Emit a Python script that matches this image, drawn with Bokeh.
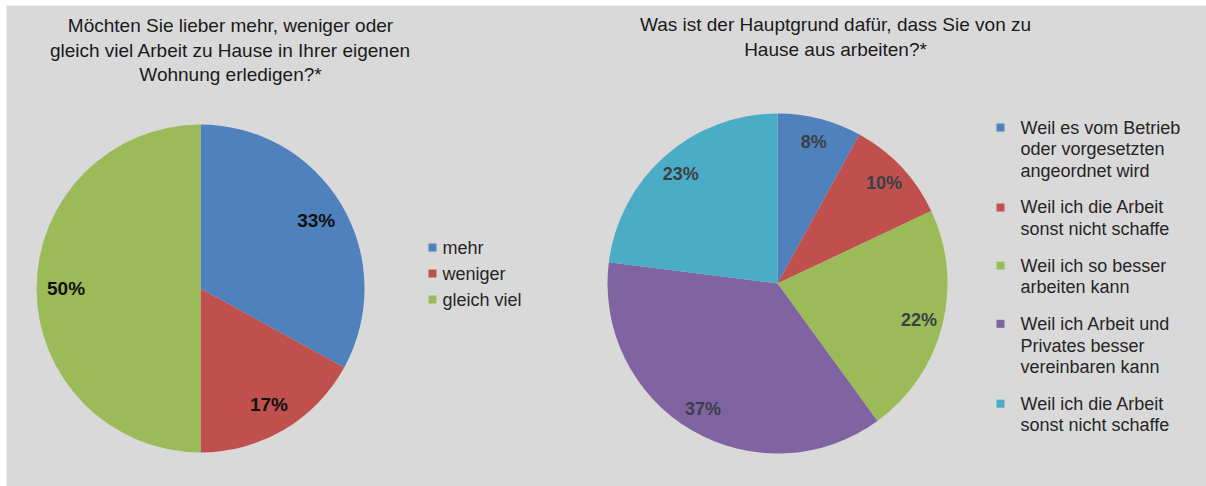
import math
from bokeh.plotting import figure
from bokeh.models import Range1d
from bokeh.core.properties import value
from bokeh.embed import file_html
from bokeh.resources import INLINE

# ---------------- data ----------------
left_title = ["Möchten Sie lieber mehr, weniger oder",
              "gleich viel Arbeit zu Hause in Ihrer eigenen",
              "Wohnung erledigen?*"]
left_categories = ["mehr", "weniger", "gleich viel"]
left_values = [33, 17, 50]

right_title = ["Was ist der Hauptgrund dafür, dass Sie von zu",
               "Hause aus arbeiten?*"]
right_categories = ["Weil es vom Betrieb\noder vorgesetzten\nangeordnet wird",
                    "Weil ich die Arbeit\nsonst nicht schaffe",
                    "Weil ich so besser\narbeiten kann",
                    "Weil ich Arbeit und\nPrivates besser\nvereinbaren kann",
                    "Weil ich die Arbeit\nsonst nicht schaffe"]
right_values = [8, 10, 22, 37, 23]

left_colors = ["#4f81bd", "#c0504d", "#9bbb59"]
right_colors = ["#4f81bd", "#c0504d", "#9bbb59", "#8064a2", "#4bacc6"]

# ---------------- layout ----------------
W, H = 1206, 486
LB, TB = 6, 5
BG = "#d9d9d9"
FONT = "Liberation Sans"


def Y(yref):  # reference-page y (top-down) -> data y
    return H - yref


def X(xref):
    return xref


p = figure(width=W, height=H, output_backend="svg", toolbar_location=None,
           x_range=Range1d(LB, W), y_range=Range1d(0, H - TB),
           x_axis_location=None, y_axis_location=None,
           min_border=0, min_border_left=LB, min_border_top=TB,
           background_fill_color=BG, border_fill_color="white",
           outline_line_color=None)
p.grid.visible = False


def pie(values, colors, cx, cy, r, lab_frac, lab_size, lab_color):
    total = float(sum(values))
    cum = 0.0
    starts, ends, lx, ly, labs = [], [], [], [], []
    for v in values:
        a0 = math.pi / 2 - 2 * math.pi * (cum + v) / total
        a1 = math.pi / 2 - 2 * math.pi * cum / total
        mid = (a0 + a1) / 2
        starts.append(a0)
        ends.append(a1)
        lx.append(cx + r * lab_frac * math.cos(mid))
        ly.append(cy + r * lab_frac * math.sin(mid))
        labs.append(f"{round(100 * v / total)}%")
        cum += v
    p.wedge(x=cx, y=cy, radius=r, start_angle=starts, end_angle=ends,
            fill_color=colors, line_color=None)
    p.text(x=lx, y=ly, text=labs, text_align="center", text_baseline="middle",
           text_font=value(FONT), text_font_style="bold",
           text_font_size=lab_size, text_color=lab_color)


pie(left_values, left_colors, X(200), Y(288), 164, 0.82, "19px", "#111111")
pie(right_values, right_colors, X(777), Y(283), 170, 0.86, "18px", "#3a3f47")

# titles
p.text(x=[X(230)] * len(left_title), y=[Y(25 + 24.5 * i) for i in range(len(left_title))],
       text=left_title, text_align="center", text_baseline="alphabetic",
       text_font=value(FONT), text_font_size="19px", text_color="#1a1a1a")
p.text(x=[X(835)] * len(right_title), y=[Y(24 + 24.5 * i) for i in range(len(right_title))],
       text=right_title, text_align="center", text_baseline="alphabetic",
       text_font=value(FONT), text_font_size="19px", text_color="#1a1a1a")

# left legend
ly0 = [247 + 26 * i for i in range(len(left_categories))]
p.scatter(x=[X(432)] * len(ly0), y=[Y(v) for v in ly0], marker="square", size=8,
          fill_color=left_colors, line_color=None)
p.text(x=[X(442)] * len(ly0), y=[Y(v) for v in ly0], text=left_categories,
       text_align="left", text_baseline="middle", text_font=value(FONT),
       text_font_size="18px", text_color="#262626")

# right legend
yy = 127.0
sq_y, tx_y, tx = [], [], []
for cat in right_categories:
    lines = cat.split("\n")
    sq_y.append(yy)
    for ln in lines:
        tx_y.append(yy)
        tx.append(ln)
        yy += 21.7
    yy += 36.5 - 21.7
p.scatter(x=[X(1000)] * len(sq_y), y=[Y(v) for v in sq_y], marker="square", size=8,
          fill_color=right_colors, line_color=None)
p.text(x=[X(1020)] * len(tx), y=[Y(v) for v in tx_y], text=tx,
       text_align="left", text_baseline="middle", text_font=value(FONT),
       text_font_size="18px", text_color="#262626")

open("out.html", "w").write(file_html(p, INLINE))
